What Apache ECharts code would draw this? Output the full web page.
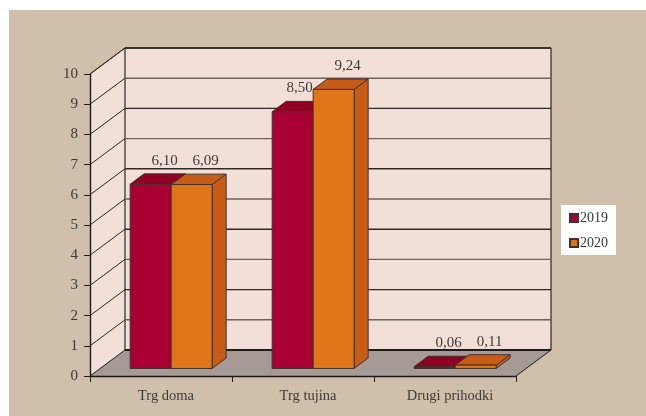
<!DOCTYPE html>
<html><head><meta charset="utf-8">
<style>html,body{margin:0;padding:0;background:#fff}#c{width:646px;height:416px}</style>
<script src="https://cdn.jsdelivr.net/npm/echarts@6/dist/echarts.min.js"></script>
</head><body><div id="c"></div>
<script>
const categories = ['Trg doma', 'Trg tujina', 'Drugi prihodki'];
const values2019 = [6.10, 8.50, 0.06];
const values2020 = [6.09, 9.24, 0.11];
const seriesNames = ['2019', '2020'];
const yTicks = [0,1,2,3,4,5,6,7,8,9,10];

const FONT = '"Liberation Serif", serif';
const TEXT = '#3d3a38';
const DEPTH = [35, -26];      // pixel offset of the back wall
const BAR_FRONT = 0.29, BAR_BACK = 0.69;  // bars occupy this part of the depth
const BAR_W = 41;
const EDGE = '#43302c';
const fmt = v => v.toFixed(2).replace('.', ',');

function poly(points, fill, stroke, lw) {
  return {type:'polygon', shape:{points}, style:{fill, stroke: stroke||'none', lineWidth: lw==null?1:lw}};
}
function line(a, b, stroke, lw) {
  return {type:'line', shape:{x1:a[0],y1:a[1],x2:b[0],y2:b[1]}, style:{stroke, lineWidth:lw||1}};
}

// floor + walls + grid lines, all placed from the axis scales
function renderWalls(params, api) {
  const i = params.dataIndex;
  if (i !== 0) {
    const v = api.value(0);
    const p = api.coord([0, v]);
    const x0 = params.coordSys.x, x1 = x0 + params.coordSys.width;
    const dark = v % 2 === 0;
    return {type:'group', children:[
      line([x0, p[1]], [x0+DEPTH[0], p[1]+DEPTH[1]], '#2b2624', 1),
      line([x0+DEPTH[0], p[1]+DEPTH[1]], [x1+DEPTH[0], p[1]+DEPTH[1]], dark ? '#2f2a28' : '#6f625c', 1.4)
    ]};
  }
  const cs = params.coordSys;
  const x0 = cs.x, x1 = cs.x + cs.width, y0 = cs.y + cs.height, yt = cs.y;
  const d = DEPTH;
  return {type:'group', children:[
    poly([[x0,y0],[x0,yt],[x0+d[0],yt+d[1]],[x0+d[0],y0+d[1]]], '#f2dfd7'),
    poly([[x0+d[0],yt+d[1]],[x1+d[0],yt+d[1]],[x1+d[0],y0+d[1]],[x0+d[0],y0+d[1]]], '#f2dfd7'),
    poly([[x0,y0],[x0+d[0],y0+d[1]],[x1+d[0],y0+d[1]],[x1,y0]], '#a69a94'),
    line([x0+d[0],yt+d[1]],[x0+d[0],y0+d[1]],'#2b2624',1.2),
    line([x1+d[0],yt+d[1]],[x1+d[0],y0+d[1]],'#2b2624',1.2),
    line([x0+d[0],yt+d[1]],[x1+d[0],yt+d[1]],'#3a3431',1.4),
    line([x0+d[0],y0+d[1]],[x1+d[0],y0+d[1]],'#1f1b1a',2),
    line([x0,y0],[x0+d[0],y0+d[1]],'#1f1b1a',1),
    line([x1,y0],[x1+d[0],y0+d[1]],'#1f1b1a',1),
    line([x0,yt],[x0+d[0],yt+d[1]],'#2b2624',1)
  ]};
}

function barRenderer(side, front, shade, labelShift) {
  return function (params, api) {
    const cat = api.value(0), v = api.value(1);
    const top = api.coord([cat, v]), base = api.coord([cat, 0]);
    const fx = DEPTH[0]*BAR_FRONT, fy = DEPTH[1]*BAR_FRONT;
    const bx = DEPTH[0]*(BAR_BACK-BAR_FRONT), by = DEPTH[1]*(BAR_BACK-BAR_FRONT);
    const l = top[0] + fx + (side < 0 ? -BAR_W : 0), r = l + BAR_W;
    const t = top[1] + fy, b = base[1] + fy;
    const shift = labelShift[params.dataIndex] || 0;
    return {type:'group', children:[
      poly([[r,t],[r+bx,t+by],[r+bx,b+by],[r,b]], shade, EDGE, 1),
      poly([[l,t],[l+bx,t+by],[r+bx,t+by],[r,t]], shade, EDGE, 1),
      poly([[l,t],[r,t],[r,b],[l,b]], front, EDGE, 1),
      {type:'text', style:{text: fmt(v), x:(l+r)/2+bx+shift, y:t+by-13, align:'center', verticalAlign:'middle',
        font:'15px '+FONT, fill:TEXT}}
    ]};
  };
}

const chart = echarts.init(document.getElementById('c'), null, {renderer:'canvas'});
const axisCommon = {
  axisLine:{show:true, lineStyle:{color:'#1f1b1a', width:1.4}},
  axisTick:{show:true, lineStyle:{color:'#1f1b1a', width:1}, length:6},
  axisLabel:{color:TEXT, fontFamily:FONT, fontSize:15},
  splitLine:{show:false}
};
chart.setOption({
  animation:false,
  backgroundColor:'#fff',
  graphic:[{type:'rect', z:-10, silent:true, shape:{x:9,y:10,width:640,height:410}, style:{fill:'#d0bfaa'}}],
  grid:{left:90, top:74, width:426, height:302, containLabel:false},
  xAxis:Object.assign({}, axisCommon, {type:'category', data:categories, boundaryGap:true,
    axisTick:{show:true, alignWithLabel:false, length:6, lineStyle:{color:'#1f1b1a'}},
    axisLabel:{color:TEXT, fontFamily:FONT, fontSize:14.5, margin:13, padding:[0,0,0,10]}, z:5}),
  yAxis:Object.assign({}, axisCommon, {type:'value', min:0, max:10, interval:1, z:5,
    axisLabel:{color:TEXT, fontFamily:FONT, fontSize:15, margin:12}}),
  legend:{
    orient:'vertical', left:561, top:205, icon:'rect',
    backgroundColor:'#ffffff', padding:[6,8,5,8], itemWidth:8, itemHeight:8, itemGap:11,
    data:seriesNames, textStyle:{color:TEXT, fontFamily:FONT, fontSize:14, padding:[0,0,0,-3]}
  },
  series:[
    {type:'custom', name:'walls', silent:true, z:1, clip:false, renderItem:renderWalls,
     data:yTicks.map(v=>[v]), encode:{y:0}},
    {type:'custom', name:seriesNames[0], z:3, clip:false,
     itemStyle:{color:'#a80032', borderColor:EDGE, borderWidth:1},
     renderItem:barRenderer(-1,'#a80032','#8f0023',[0,-7,0]),
     data:values2019.map((v,i)=>[i,v]), encode:{x:0,y:1}},
    {type:'custom', name:seriesNames[1], z:4, clip:false,
     itemStyle:{color:'#e0761a', borderColor:EDGE, borderWidth:1},
     renderItem:barRenderer(1,'#e0761a','#c75c16',[0,0,0]),
     data:values2020.map((v,i)=>[i,v]), encode:{x:0,y:1}}
  ]
});
</script></body></html>
